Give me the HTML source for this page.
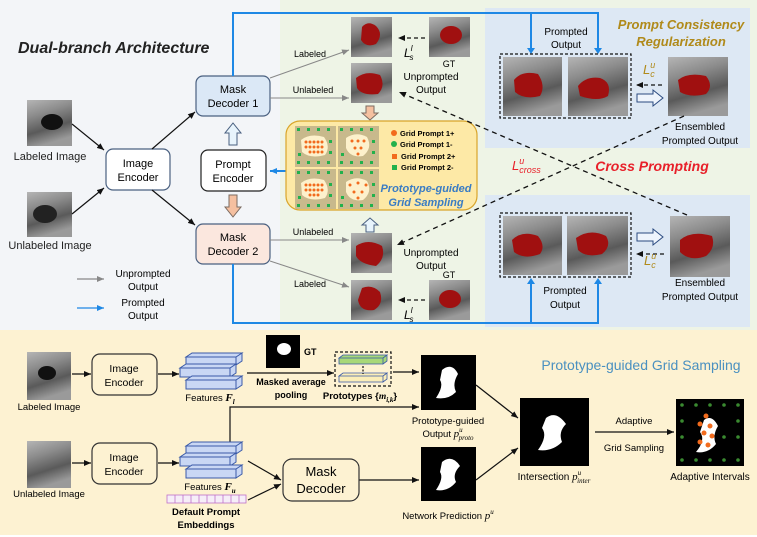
<!DOCTYPE html>
<html><head><meta charset="utf-8"><style>
html,body{margin:0;padding:0;background:#fff}
svg{display:block}
text{font-family:"Liberation Sans",sans-serif}
</style></head><body>
<svg width="757" height="537" viewBox="0 0 757 537" xmlns="http://www.w3.org/2000/svg">
<defs>
<linearGradient id="us" x1="0" y1="0" x2="0.3" y2="1">
<stop offset="0" stop-color="#b5b5b5"/><stop offset="0.35" stop-color="#8c8c8c"/><stop offset="0.7" stop-color="#5a5a5a"/><stop offset="1" stop-color="#9a9a9a"/></linearGradient>
<marker id="ak" markerWidth="8" markerHeight="8" refX="7" refY="4" orient="auto" markerUnits="userSpaceOnUse"><path d="M0,1 L7,4 L0,7z" fill="#111"/></marker>
<marker id="ag" markerWidth="8" markerHeight="8" refX="7" refY="4" orient="auto" markerUnits="userSpaceOnUse"><path d="M0,1 L7,4 L0,7z" fill="#888"/></marker>
<marker id="ab" markerWidth="8" markerHeight="8" refX="7" refY="4" orient="auto" markerUnits="userSpaceOnUse"><path d="M0,1 L7,4 L0,7z" fill="#1e88e5"/></marker>
<g id="dotsG" fill="#22b14c"><rect x="2" y="2" width="3" height="3"/><rect x="12" y="2" width="3" height="3"/><rect x="22" y="2" width="3" height="3"/><rect x="32" y="2" width="3" height="3"/><rect x="2" y="35" width="3" height="3"/><rect x="12" y="35" width="3" height="3"/><rect x="22" y="35" width="3" height="3"/><rect x="32" y="35" width="3" height="3"/><rect x="34" y="14" width="3" height="3"/><rect x="34" y="25" width="3" height="3"/><rect x="3" y="27" width="3" height="3"/></g>
</defs>
<!-- backgrounds -->
<rect x="0" y="0" width="757" height="330" fill="#f3f5f8"/>
<rect x="280" y="0" width="477" height="330" fill="#eef4e6"/>
<rect x="485" y="8" width="265" height="140" fill="#dde8f4"/>
<rect x="485" y="195" width="265" height="132" fill="#dde8f4"/>
<rect x="0" y="330" width="757" height="205" fill="#fdf2d2"/>

<text x="18" y="53" font-size="16" font-weight="bold" font-style="italic" fill="#222">Dual-branch Architecture</text>

<!-- input images -->
<rect x="27" y="100" width="45" height="46" fill="url(#us)"/><ellipse cx="52" cy="122" rx="11" ry="8" fill="#111"/>
<text x="50" y="160" font-size="11" text-anchor="middle" fill="#222">Labeled Image</text>
<rect x="27" y="192" width="45" height="45" fill="url(#us)"/><ellipse cx="45" cy="214" rx="12" ry="9" fill="#222"/>
<text x="50" y="249" font-size="11" text-anchor="middle" fill="#222">Unlabeled Image</text>

<!-- boxes -->
<rect x="106" y="149" width="64" height="41" rx="7" fill="#fff" stroke="#4a6080" stroke-width="1.2"/>
<text x="138" y="167" font-size="11" text-anchor="middle">Image</text><text x="138" y="181" font-size="11" text-anchor="middle">Encoder</text>
<rect x="196" y="76" width="74" height="40" rx="7" fill="#dbe8f6" stroke="#4a6080" stroke-width="1.2"/>
<text x="233" y="93" font-size="11" text-anchor="middle">Mask</text><text x="233" y="107" font-size="11" text-anchor="middle">Decoder 1</text>
<rect x="201" y="150" width="65" height="41" rx="7" fill="#fff" stroke="#222" stroke-width="1.2"/>
<text x="233" y="168" font-size="11" text-anchor="middle">Prompt</text><text x="233" y="182" font-size="11" text-anchor="middle">Encoder</text>
<rect x="196" y="224" width="74" height="40" rx="7" fill="#fbe7de" stroke="#4a6080" stroke-width="1.2"/>
<text x="233" y="241" font-size="11" text-anchor="middle">Mask</text><text x="233" y="255" font-size="11" text-anchor="middle">Decoder 2</text>

<g stroke="#111" stroke-width="1.2" marker-end="url(#ak)">
<line x1="72" y1="124" x2="104" y2="150"/><line x1="72" y1="214" x2="104" y2="188"/>
<line x1="152" y1="149" x2="195" y2="112"/><line x1="152" y1="190" x2="195" y2="225"/>
</g>
<!-- hollow arrows -->
<path d="M229,145 L229,133 L225,133 L233,123 L241,133 L237,133 L237,145z" fill="#e8f4fc" stroke="#4a6080"/>
<path d="M229,195 L237,195 L237,207 L241,207 L233,217 L225,207 L229,207z" fill="#f5c0a0" stroke="#7a6a60"/>
<path d="M366,106 L374,106 L374,113 L378,113 L370,120 L362,113 L366,113z" fill="#f5c0a0" stroke="#7a6a60"/>
<path d="M366,232 L366,225 L362,225 L370,218 L378,225 L374,225 L374,232z" fill="#e8f4fc" stroke="#4a6080"/>

<!-- legend -->
<line x1="77" y1="279" x2="104" y2="279" stroke="#888" stroke-width="1.2" marker-end="url(#ag)"/>
<text x="143" y="277" font-size="10" text-anchor="middle">Unprompted</text><text x="143" y="290" font-size="10" text-anchor="middle">Output</text>
<line x1="77" y1="308" x2="104" y2="308" stroke="#1e88e5" stroke-width="1.2" marker-end="url(#ab)"/>
<text x="143" y="306" font-size="10" text-anchor="middle">Prompted</text><text x="143" y="319" font-size="10" text-anchor="middle">Output</text>

<!-- blue outer lines -->
<g fill="none" stroke="#1e88e5" stroke-width="2">
<path d="M233,76 L233,13 L598,13 L598,50"/><path d="M531,13 L531,50"/>
<path d="M233,264 L233,323 L598,323 L598,282"/><path d="M531,323 L531,282"/>
</g>
<g fill="#1e88e5"><path d="M527,48 L535,48 L531,54z"/><path d="M594,48 L602,48 L598,54z"/><path d="M527,284 L535,284 L531,278z"/><path d="M594,284 L602,284 L598,278z"/></g>
<line x1="287" y1="171" x2="270" y2="171" stroke="#1e88e5" stroke-width="2" marker-end="url(#ab)"/>

<!-- gray outputs -->
<g stroke="#888" stroke-width="1" marker-end="url(#ag)">
<line x1="270" y1="78" x2="349" y2="50"/><line x1="270" y1="98" x2="349" y2="98"/>
<line x1="270" y1="240" x2="349" y2="240"/><line x1="270" y1="261" x2="349" y2="287"/>
</g>
<text x="310" y="57" font-size="9" text-anchor="middle">Labeled</text>
<text x="313" y="93" font-size="9" text-anchor="middle">Unlabeled</text>
<text x="313" y="235" font-size="9" text-anchor="middle">Unlabeled</text>
<text x="310" y="287" font-size="9" text-anchor="middle">Labeled</text>

<!-- thumbnails -->
<g>
<rect x="351" y="17" width="41" height="40" fill="url(#us)"/><path d="M362,27 Q368,20 376,26 Q384,34 376,44 Q366,48 361,40z" fill="#a01010"/>
<rect x="351" y="63" width="41" height="40" fill="url(#us)"/><path d="M356,78 Q366,70 380,75 Q386,86 378,94 Q362,96 357,88z" fill="#a01010"/>
<rect x="351" y="233" width="41" height="40" fill="url(#us)"/><path d="M356,246 Q368,238 382,246 Q386,258 376,266 Q360,264 356,256z" fill="#a01010"/>
<rect x="351" y="280" width="41" height="40" fill="url(#us)"/><path d="M362,288 Q372,284 380,292 Q384,304 374,310 Q360,312 358,300z" fill="#a01010"/>
<rect x="429" y="17" width="41" height="40" fill="url(#us)"/><ellipse cx="451" cy="35" rx="11" ry="9" fill="#a01010"/>
<rect x="429" y="280" width="41" height="40" fill="url(#us)"/><ellipse cx="450" cy="299" rx="11" ry="9" fill="#a01010"/>
</g>
<g stroke="#111" stroke-width="1.3" stroke-dasharray="4,3" marker-end="url(#ak)">
<line x1="425" y1="38" x2="398" y2="38"/><line x1="425" y1="300" x2="398" y2="300"/>
</g>
<text x="404" y="57" font-size="12" font-style="italic" font-family="Liberation Serif">L<tspan font-size="8" dy="-6">l</tspan><tspan font-size="8" dx="-3" dy="9">s</tspan></text>
<text x="404" y="319" font-size="12" font-style="italic" font-family="Liberation Serif">L<tspan font-size="8" dy="-6">l</tspan><tspan font-size="8" dx="-3" dy="9">s</tspan></text>
<text x="449" y="67" font-size="9" text-anchor="middle">GT</text>
<text x="431" y="80" font-size="10" text-anchor="middle">Unprompted</text><text x="431" y="93" font-size="10" text-anchor="middle">Output</text>
<text x="431" y="256" font-size="10" text-anchor="middle">Unprompted</text><text x="431" y="269" font-size="10" text-anchor="middle">Output</text>
<text x="449" y="278" font-size="9" text-anchor="middle">GT</text>

<!-- yellow grid box -->
<rect x="286" y="121" width="191" height="89" rx="14" fill="#fde9a6" stroke="#d9a52b" stroke-width="1.2"/>
<rect x="295" y="126" width="41" height="41" fill="#c8b98c"/><rect x="338" y="126" width="41" height="41" fill="#c8b98c"/>
<rect x="295" y="169" width="41" height="40" fill="#c8b98c"/><rect x="338" y="169" width="41" height="40" fill="#c8b98c"/>
<path d="M301,140 Q310,133 324,137 Q331,147 325,155 Q310,159 302,152z" fill="#fdf1cc"/>
<path d="M346,138 Q356,131 367,137 Q373,148 363,156 Q350,158 346,148z" fill="#fdf1cc"/>
<path d="M301,183 Q310,176 324,180 Q331,190 325,198 Q310,202 302,195z" fill="#fdf1cc"/>
<path d="M346,182 Q356,175 367,181 Q373,192 363,200 Q350,202 346,192z" fill="#fdf1cc"/>
<use href="#dotsG" x="295" y="126"/><use href="#dotsG" x="338" y="126"/><use href="#dotsG" x="295" y="169"/><use href="#dotsG" x="338" y="169"/>
<g fill="#f26b1d">
<circle cx="306" cy="142" r="1.5"/><circle cx="310" cy="142" r="1.5"/><circle cx="314" cy="142" r="1.5"/><circle cx="318" cy="142" r="1.5"/><circle cx="322" cy="142" r="1.5"/>
<circle cx="306" cy="147" r="1.5"/><circle cx="310" cy="147" r="1.5"/><circle cx="314" cy="147" r="1.5"/><circle cx="318" cy="147" r="1.5"/><circle cx="322" cy="147" r="1.5"/>
<circle cx="310" cy="152" r="1.5"/><circle cx="314" cy="152" r="1.5"/><circle cx="318" cy="152" r="1.5"/><circle cx="322" cy="152" r="1.5"/>
<circle cx="352" cy="141" r="1.5"/><circle cx="358" cy="141" r="1.5"/><circle cx="364" cy="141" r="1.5"/><circle cx="355" cy="148" r="1.5"/><circle cx="361" cy="148" r="1.5"/><circle cx="358" cy="154" r="1.5"/>
<circle cx="306" cy="185" r="1.5"/><circle cx="310" cy="185" r="1.5"/><circle cx="314" cy="185" r="1.5"/><circle cx="318" cy="185" r="1.5"/><circle cx="322" cy="185" r="1.5"/>
<circle cx="306" cy="190" r="1.5"/><circle cx="310" cy="190" r="1.5"/><circle cx="314" cy="190" r="1.5"/><circle cx="318" cy="190" r="1.5"/><circle cx="322" cy="190" r="1.5"/>
<circle cx="310" cy="195" r="1.5"/><circle cx="314" cy="195" r="1.5"/><circle cx="318" cy="195" r="1.5"/>
<circle cx="350" cy="185" r="1.5"/><circle cx="358" cy="183" r="1.5"/><circle cx="366" cy="185" r="1.5"/><circle cx="354" cy="192" r="1.5"/><circle cx="362" cy="192" r="1.5"/><circle cx="358" cy="198" r="1.5"/>
</g>
<circle cx="394" cy="133" r="3" fill="#f26b1d"/><text x="400" y="136" font-size="7.5" font-weight="bold">Grid Prompt 1+</text>
<circle cx="394" cy="144" r="3" fill="#22b14c"/><text x="400" y="147" font-size="7.5" font-weight="bold">Grid Prompt 1-</text>
<rect x="392" y="154" width="5" height="5" fill="#f26b1d"/><text x="401" y="159" font-size="7.5" font-weight="bold">Grid Prompt 2+</text>
<rect x="392" y="165" width="5" height="5" fill="#22b14c"/><text x="401" y="170" font-size="7.5" font-weight="bold">Grid Prompt 2-</text>
<text x="426" y="192" font-size="11" font-weight="bold" font-style="italic" fill="#3a7cc4" text-anchor="middle">Prototype-guided</text>
<text x="426" y="206" font-size="11" font-weight="bold" font-style="italic" fill="#3a7cc4" text-anchor="middle">Grid Sampling</text>

<!-- top right panel -->
<text x="566" y="35" font-size="10" text-anchor="middle">Prompted</text><text x="566" y="48" font-size="10" text-anchor="middle">Output</text>
<text x="681" y="29" font-size="13" font-weight="bold" font-style="italic" fill="#b08a1a" text-anchor="middle">Prompt Consistency</text>
<text x="681" y="46" font-size="13" font-weight="bold" font-style="italic" fill="#b08a1a" text-anchor="middle">Regularization</text>
<rect x="500" y="54" width="131" height="64" fill="none" stroke="#111" stroke-width="1.2" stroke-dasharray="3,2"/>
<rect x="503" y="57" width="59" height="59" fill="url(#us)"/><path d="M514,80 Q522,70 538,74 Q546,86 540,96 Q524,100 515,92z" fill="#a01010"/>
<rect x="568" y="57" width="60" height="59" fill="url(#us)"/><path d="M578,86 Q586,76 600,78 Q612,82 608,96 Q598,102 580,96z" fill="#a01010"/>
<rect x="668" y="57" width="60" height="59" fill="url(#us)"/><path d="M678,80 Q688,72 706,76 Q714,86 706,94 Q690,98 680,92z" fill="#a01010"/>
<text x="643" y="74" font-size="13" font-style="italic" font-family="Liberation Serif" fill="#b08a1a">L<tspan font-size="9" dy="-6">u</tspan><tspan font-size="9" dx="-5" dy="9">c</tspan></text>
<line x1="662" y1="85" x2="636" y2="85" stroke="#111" stroke-width="1.3" stroke-dasharray="4,3" marker-end="url(#ak)"/>
<path d="M637,94 L653,94 L653,90 L663,98 L653,106 L653,102 L637,102z" fill="#eef4fc" stroke="#2a4a80"/>
<text x="700" y="130" font-size="10" text-anchor="middle">Ensembled</text><text x="700" y="144" font-size="10" text-anchor="middle">Prompted Output</text>

<text x="652" y="171" font-size="14" font-weight="bold" font-style="italic" fill="#e8202a" text-anchor="middle">Cross Prompting</text>
<text x="512" y="170" font-size="13" font-style="italic" font-family="Liberation Serif" fill="#e8202a">L<tspan font-size="9" dy="-6">u</tspan><tspan font-size="9" dx="-5" dy="9">cross</tspan></text>

<!-- bottom right panel -->
<rect x="500" y="213" width="131" height="64" fill="none" stroke="#111" stroke-width="1.2" stroke-dasharray="3,2"/>
<rect x="503" y="216" width="59" height="59" fill="url(#us)"/><path d="M512,240 Q522,230 538,236 Q546,246 540,254 Q524,260 514,252z" fill="#a01010"/>
<rect x="567" y="216" width="61" height="59" fill="url(#us)"/><path d="M576,238 Q590,228 606,236 Q612,246 602,254 Q586,258 578,250z" fill="#a01010"/>
<rect x="670" y="216" width="60" height="61" fill="url(#us)"/><path d="M680,240 Q692,230 712,236 Q716,248 706,256 Q690,262 680,252z" fill="#a01010"/>
<path d="M637,233 L653,233 L653,229 L663,237 L653,245 L653,241 L637,241z" fill="#eef4fc" stroke="#2a4a80"/>
<line x1="664" y1="254" x2="636" y2="254" stroke="#111" stroke-width="1.3" stroke-dasharray="4,3" marker-end="url(#ak)"/>
<text x="644" y="265" font-size="13" font-style="italic" font-family="Liberation Serif" fill="#b08a1a">L<tspan font-size="9" dy="-6">u</tspan><tspan font-size="9" dx="-5" dy="9">c</tspan></text>
<text x="565" y="294" font-size="10" text-anchor="middle">Prompted</text><text x="565" y="308" font-size="10" text-anchor="middle">Output</text>
<text x="700" y="286" font-size="10" text-anchor="middle">Ensembled</text><text x="700" y="300" font-size="10" text-anchor="middle">Prompted Output</text>

<!-- cross dashed -->
<g stroke="#111" stroke-width="1.3" stroke-dasharray="5,4" marker-end="url(#ak)" fill="none">
<line x1="684" y1="116" x2="397" y2="245"/>
<line x1="687" y1="215" x2="399" y2="92"/>
</g>

<!-- ========== bottom section ========== -->
<text x="641" y="370" font-size="14" fill="#4a90c0" text-anchor="middle">Prototype-guided Grid Sampling</text>
<rect x="27" y="352" width="44" height="48" fill="url(#us)"/><ellipse cx="47" cy="373" rx="9" ry="7" fill="#111"/>
<text x="49" y="410" font-size="9.5" text-anchor="middle">Labeled Image</text>
<rect x="27" y="441" width="44" height="47" fill="url(#us)"/>
<text x="49" y="497" font-size="9.5" text-anchor="middle">Unlabeled Image</text>
<rect x="92" y="354" width="65" height="41" rx="8" fill="#fdf2d2" stroke="#333" stroke-width="1.2"/>
<text x="124" y="372" font-size="10.5" text-anchor="middle">Image</text><text x="124" y="386" font-size="10.5" text-anchor="middle">Encoder</text>
<rect x="92" y="443" width="65" height="41" rx="8" fill="#fdf2d2" stroke="#333" stroke-width="1.2"/>
<text x="124" y="461" font-size="10.5" text-anchor="middle">Image</text><text x="124" y="475" font-size="10.5" text-anchor="middle">Encoder</text>
<g stroke="#111" stroke-width="1.2" marker-end="url(#ak)" fill="none">
<line x1="72" y1="374" x2="91" y2="374"/><line x1="158" y1="374" x2="179" y2="374"/>
<line x1="72" y1="463" x2="91" y2="463"/><line x1="158" y1="463" x2="179" y2="463"/>
<line x1="247" y1="373" x2="334" y2="373"/><line x1="270" y1="372" x2="289" y2="372" style="display:none"/>
<line x1="393" y1="372" x2="419" y2="372"/>
<path d="M230,444 L230,407 L419,407"/>
<line x1="248" y1="461" x2="281" y2="480"/><line x1="248" y1="500" x2="281" y2="484"/>
<line x1="359" y1="480" x2="419" y2="480"/>
<line x1="476" y1="385" x2="518" y2="418"/><line x1="476" y1="480" x2="518" y2="448"/>
<line x1="595" y1="432" x2="674" y2="432"/>
</g>
<!-- feature stacks -->
<g fill="#c9d7f4" stroke="#3a5aa8" stroke-width="1">
<path d="M186,357 h50 l6,-4 h-50z M186,357 h50 v8 h-50z M236,365 l6,-4 v-8 l-6,4z"/>
<path d="M180,368 h50 l6,-4 h-50z M180,368 h50 v9 h-50z M230,377 l6,-4 v-9 l-6,4z"/>
<path d="M186,380 h50 l6,-4 h-50z M186,380 h50 v9 h-50z M236,389 l6,-4 v-9 l-6,4z"/>
<path d="M186,446 h50 l6,-4 h-50z M186,446 h50 v8 h-50z M236,454 l6,-4 v-8 l-6,4z"/>
<path d="M180,457 h50 l6,-4 h-50z M180,457 h50 v9 h-50z M230,466 l6,-4 v-9 l-6,4z"/>
<path d="M186,469 h50 l6,-4 h-50z M186,469 h50 v9 h-50z M236,478 l6,-4 v-9 l-6,4z"/>
</g>
<text x="210" y="401" font-size="9.5" text-anchor="middle">Features <tspan font-style="italic" font-family="Liberation Serif" font-size="11" font-weight="bold">F<tspan font-size="7" dy="3">l</tspan></tspan></text>
<text x="210" y="490" font-size="9.5" text-anchor="middle">Features <tspan font-style="italic" font-family="Liberation Serif" font-size="11" font-weight="bold">F<tspan font-size="7" dy="3">u</tspan></tspan></text>
<g fill="#fff" stroke="#c070c8" stroke-width="0.8">
<rect x="167" y="495" width="79" height="8" fill="#f6eef8"/>
<path d="M175,495v8M183,495v8M191,495v8M199,495v8M207,495v8M215,495v8M223,495v8M231,495v8M239,495v8"/>
</g>
<text x="206" y="515" font-size="9.5" font-weight="bold" text-anchor="middle">Default Prompt</text>
<text x="206" y="528" font-size="9.5" font-weight="bold" text-anchor="middle">Embeddings</text>
<rect x="266" y="335" width="34" height="33" fill="#000"/><ellipse cx="284" cy="349" rx="7" ry="6" fill="#fff"/>
<text x="304" y="355" font-size="9" font-weight="bold">GT</text>
<text x="291" y="385" font-size="9" font-weight="bold" text-anchor="middle">Masked average</text>
<text x="291" y="398" font-size="9" font-weight="bold" text-anchor="middle">pooling</text>
<rect x="335" y="352" width="56" height="34" fill="none" stroke="#111" stroke-width="1.2" stroke-dasharray="3,2"/>
<path d="M339,358 h44 l4,-3 h-44z M339,358 h44 v6 h-44z M383,364 l4,-3 v-6 l-4,3z" fill="#a8d878" stroke="#3a5aa8" stroke-width="0.8"/>
<path d="M339,376 h44 l4,-3 h-44z M339,376 h44 v6 h-44z M383,382 l4,-3 v-6 l-4,3z" fill="#fbeeb8" stroke="#3a5aa8" stroke-width="0.8"/>
<path d="M363,366 v8" stroke="#111" stroke-width="1.2" stroke-dasharray="2,1.5"/>
<text x="360" y="399" font-size="9.5" font-weight="bold" text-anchor="middle">Prototypes {<tspan font-style="italic" font-family="Liberation Serif">m<tspan font-size="7" dy="3">i,k</tspan></tspan><tspan dy="-3">}</tspan></text>
<rect x="283" y="459" width="76" height="42" rx="9" fill="#fdf2d2" stroke="#333" stroke-width="1.2"/>
<text x="321" y="476" font-size="13" text-anchor="middle">Mask</text><text x="321" y="493" font-size="13" text-anchor="middle">Decoder</text>
<!-- masks -->
<rect x="421" y="355" width="55" height="55" fill="#000"/><path d="M442,370 Q452,362 458,374 Q452,384 456,392 Q448,400 436,398 Q444,386 440,380z" fill="#fff"/>
<text x="448" y="424" font-size="9.5" text-anchor="middle">Prototype-guided</text>
<text x="448" y="437" font-size="9.5" text-anchor="middle">Output <tspan font-style="italic" font-family="Liberation Serif" font-size="11">p<tspan font-size="7" dy="-5">u</tspan><tspan font-size="7" dx="-4" dy="8">proto</tspan></tspan></text>
<rect x="421" y="447" width="55" height="54" fill="#000"/><path d="M442,462 Q452,454 460,466 Q452,474 456,482 Q448,492 436,490 Q444,478 440,472z" fill="#fff"/>
<text x="448" y="519" font-size="9.5" text-anchor="middle">Network Prediction <tspan font-style="italic" font-family="Liberation Serif" font-size="11">p<tspan font-size="7" dy="-5">u</tspan></tspan></text>
<rect x="520" y="398" width="69" height="68" fill="#000"/><path d="M546,418 Q556,410 566,424 Q558,432 562,442 Q552,452 538,450 Q548,436 542,428z" fill="#fff"/>
<text x="554" y="480" font-size="10" text-anchor="middle">Intersection <tspan font-style="italic" font-family="Liberation Serif" font-size="11">p<tspan font-size="7" dy="-5">u</tspan><tspan font-size="7" dx="-4" dy="8">inter</tspan></tspan></text>
<text x="634" y="424" font-size="9.5" text-anchor="middle">Adaptive</text>
<text x="634" y="451" font-size="9.5" text-anchor="middle">Grid Sampling</text>
<rect x="676" y="399" width="68" height="67" fill="#000"/>
<path d="M704,420 Q712,414 718,426 Q712,436 716,444 Q708,454 696,452 Q706,440 700,432z" fill="#fff"/>
<g fill="#3a8a30"><circle cx="682" cy="405" r="1.8"/><circle cx="696" cy="405" r="1.8"/><circle cx="710" cy="405" r="1.8"/><circle cx="724" cy="405" r="1.8"/><circle cx="738" cy="405" r="1.8"/>
<circle cx="682" cy="421" r="1.8"/><circle cx="738" cy="421" r="1.8"/><circle cx="682" cy="437" r="1.8"/><circle cx="724" cy="437" r="1.8"/><circle cx="738" cy="437" r="1.8"/>
<circle cx="682" cy="460" r="1.8"/><circle cx="696" cy="460" r="1.8"/><circle cx="710" cy="460" r="1.8"/><circle cx="724" cy="460" r="1.8"/><circle cx="738" cy="460" r="1.8"/></g>
<g fill="#f26b1d"><circle cx="706" cy="416" r="2.5"/><circle cx="700" cy="424" r="2.5"/><circle cx="710" cy="426" r="2.5"/><circle cx="704" cy="433" r="2.5"/><circle cx="712" cy="436" r="2.5"/><circle cx="700" cy="442" r="2.5"/><circle cx="708" cy="445" r="2.5"/></g>
<text x="710" y="480" font-size="10" text-anchor="middle">Adaptive Intervals</text>
</svg>
</body></html>
